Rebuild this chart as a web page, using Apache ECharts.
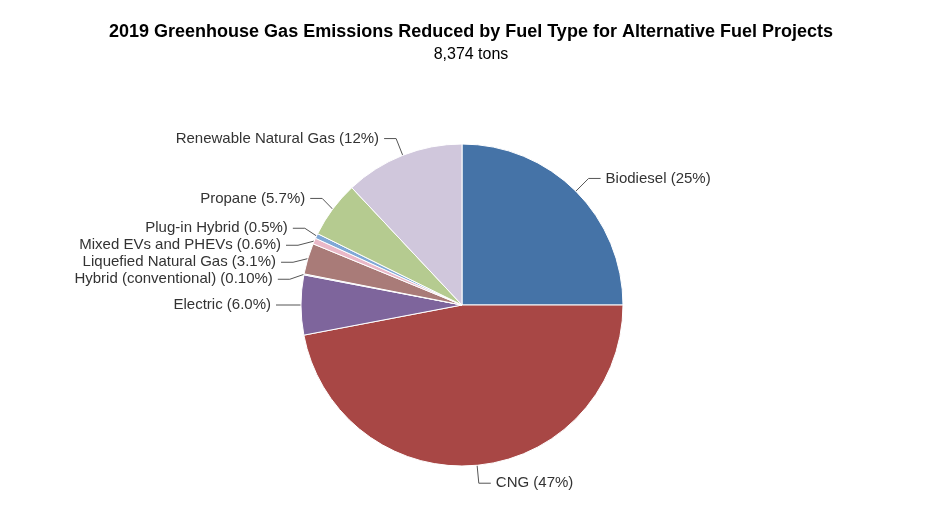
<!DOCTYPE html>
<html>
<head>
<meta charset="utf-8">
<script src="https://cdn.jsdelivr.net/npm/echarts@6/dist/echarts.min.js"></script>
<style>html,body{margin:0;background:#fff}#c{width:942px;height:532px}</style>
</head>
<body>
<div id="c"></div>
<script>
const fuelTypes = ['Biodiesel', 'CNG', 'Electric', 'Hybrid (conventional)', 'Liquefied Natural Gas',
  'Mixed EVs and PHEVs', 'Plug-in Hybrid', 'Propane', 'Renewable Natural Gas'];
const tons = [2094, 3935.5, 502, 8.5, 260, 50, 42, 477, 1005];
const pctLabels = ['25%', '47%', '6.0%', '0.10%', '3.1%', '0.6%', '0.5%', '5.7%', '12%'];
const colors = ['#4573a7', '#a84745', '#7e659c', '#6f8fbf', '#a97b78', '#eab8c8', '#80a8d6', '#b5cb90', '#d0c7dc'];

const chart = echarts.init(document.getElementById('c'));
chart.setOption({
  animation: false,
  title: {
    text: '2019 Greenhouse Gas Emissions Reduced by Fuel Type for Alternative Fuel Projects',
    subtext: '8,374 tons',
    left: 'center',
    top: 18,
    itemGap: 6,
    textStyle: { fontFamily: 'Liberation Sans', fontSize: 18, fontWeight: 'bold', color: '#000' },
    subtextStyle: { fontFamily: 'Liberation Sans', fontSize: 16, color: '#000' }
  },
  series: [{
    type: 'pie',
    center: [462, 305],
    radius: 161,
    startAngle: 90,
    clockwise: true,
    avoidLabelOverlap: true,
    itemStyle: { borderColor: '#fff', borderWidth: 1 },
    label: {
      fontFamily: 'Liberation Sans', fontSize: 15, color: '#333',
      formatter: p => p.name + ' (' + pctLabels[p.dataIndex] + ')'
    },
    labelLine: { length: 18, length2: 12, lineStyle: { color: '#555' } },
    data: fuelTypes.map((n, i) => ({ name: n, value: tons[i], itemStyle: { color: colors[i] } }))
  }]
});
</script>
</body>
</html>
